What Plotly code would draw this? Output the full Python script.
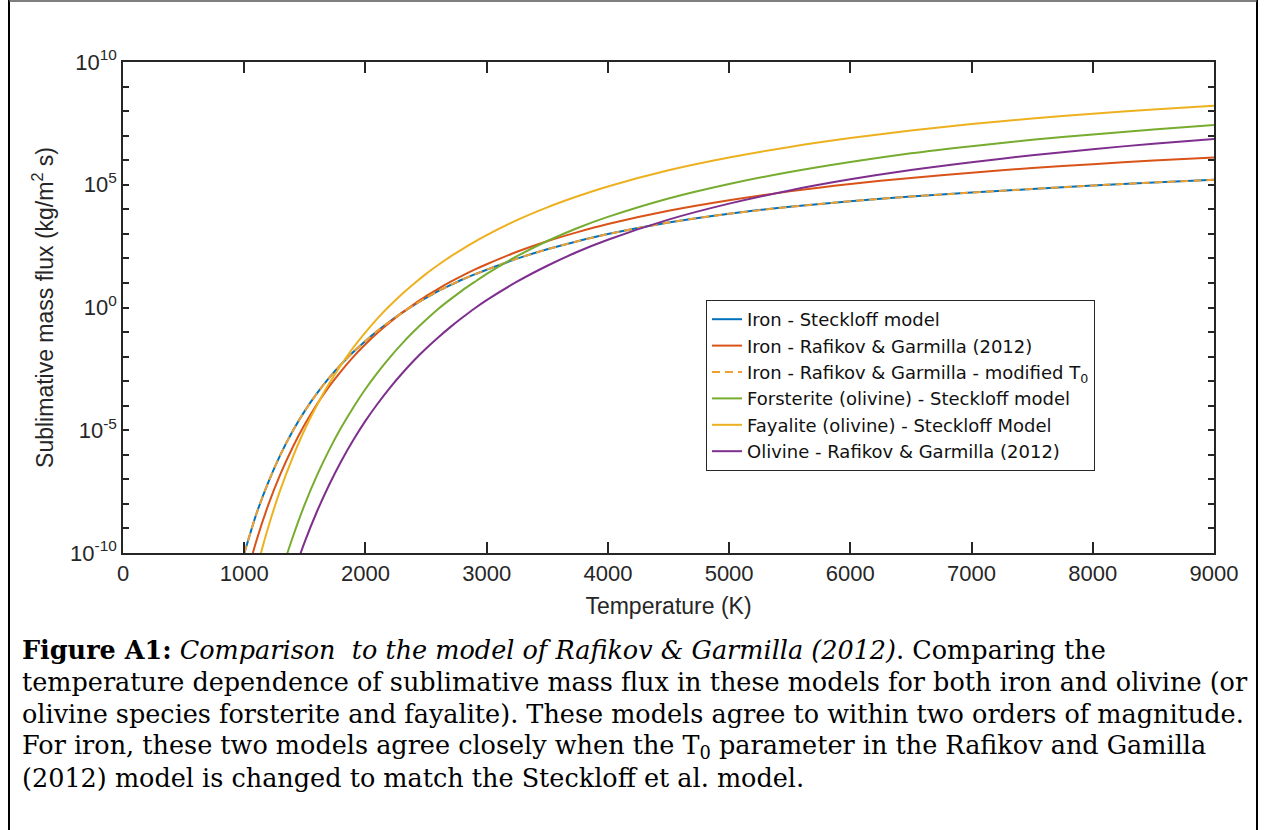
import plotly.graph_objects as go

# Temperature grid (K)
temperature = [1000, 1100, 1200, 1300, 1400, 1500, 1600, 1700, 1800, 1900, 2000,
               2100, 2200, 2300, 2400, 2500, 2600, 2700, 2800, 2900, 3000,
               3250, 3500, 3750, 4000, 4500, 5000, 5500, 6000, 6500, 7000,
               7500, 8000, 8500, 9000]

# log10 of sublimative mass flux (kg/m^2 s)
iron_steckloff = [-10.02, -8.41, -7.10, -5.98, -5.03, -4.21, -3.50, -2.87, -2.31, -1.81, -1.36,
                  -0.95, -0.57, -0.22, 0.10, 0.39, 0.67, 0.91, 1.14, 1.35, 1.54,
                  1.99, 2.37, 2.70, 2.99, 3.46, 3.82, 4.10, 4.33, 4.52, 4.68,
                  4.83, 4.97, 5.09, 5.20]
iron_rg = [-11.29, -9.51, -8.02, -6.77, -5.69, -4.76, -3.94, -3.22, -2.59, -2.01, -1.50,
           -1.03, -0.61, -0.22, 0.13, 0.46, 0.76, 1.04, 1.30, 1.54, 1.76,
           2.27, 2.70, 3.07, 3.40, 3.94, 4.37, 4.73, 5.03, 5.28, 5.49,
           5.68, 5.84, 5.99, 6.11]
iron_rg_mod = [-10.02, -8.41, -7.10, -5.98, -5.03, -4.21, -3.50, -2.87, -2.31, -1.81, -1.36,
               -0.95, -0.57, -0.22, 0.10, 0.39, 0.67, 0.91, 1.14, 1.35, 1.54,
               1.99, 2.37, 2.70, 2.99, 3.46, 3.82, 4.10, 4.33, 4.52, 4.68,
               4.83, 4.97, 5.09, 5.20]
forsterite = [-17.31, -14.78, -12.67, -10.88, -9.36, -8.01, -6.84, -5.81, -4.89, -4.07, -3.32,
              -2.65, -2.04, -1.48, -0.97, -0.50, -0.06, 0.33, 0.70, 1.04, 1.37,
              2.09, 2.71, 3.24, 3.69, 4.44, 5.03, 5.52, 5.93, 6.28, 6.57,
              6.83, 7.05, 7.25, 7.43]
fayalite = [-12.88, -10.72, -8.92, -7.40, -6.10, -4.96, -3.98, -3.10, -2.33, -1.63, -1.01,
            -0.44, 0.07, 0.54, 0.97, 1.37, 1.73, 2.07, 2.38, 2.67, 2.95,
            3.56, 4.08, 4.53, 4.93, 5.59, 6.11, 6.54, 6.90, 7.21, 7.47,
            7.70, 7.89, 8.07, 8.22]
olivine_rg = [-19.39, -16.70, -14.47, -12.57, -10.95, -9.54, -8.31, -7.23, -6.26, -5.40, -4.62,
              -3.92, -3.28, -2.70, -2.16, -1.67, -1.22, -0.80, -0.41, -0.04, 0.30,
              1.05, 1.70, 2.27, 2.76, 3.58, 4.23, 4.77, 5.22, 5.60, 5.92,
              6.20, 6.45, 6.67, 6.86]

series = [
    ("Iron - Steckloff model", iron_steckloff, "#0072BD", "solid"),
    ("Iron - Rafikov & Garmilla (2012)", iron_rg, "#D95319", "solid"),
    ("Iron - Rafikov & Garmilla - modified T<sub>0</sub>", iron_rg_mod, "#F0A030", "8px,5px"),
    ("Forsterite (olivine) - Steckloff model", forsterite, "#77AC30", "solid"),
    ("Fayalite (olivine) - Steckloff Model", fayalite, "#EDB120", "solid"),
    ("Olivine - Rafikov & Garmilla (2012)", olivine_rg, "#7E2F8E", "solid"),
]

x_ticks = list(range(0, 9001, 1000))
y_tick_exps = list(range(-10, 11))
y_tick_labels = {-10: "10<sup>-10</sup>", -5: "10<sup>-5</sup>", 0: "10<sup>0</sup>",
                 5: "10<sup>5</sup>", 10: "10<sup>10</sup>"}

fig = go.Figure()
for name, logvals, color, dash in series:
    fig.add_trace(go.Scatter(
        x=temperature, y=[10 ** v for v in logvals], mode="lines", name=name,
        line=dict(color=color, width=2, dash=dash, shape="spline", smoothing=0.8,
                  simplify=False),
    ))

W, H = 1266, 830
L, R, T, B = 123, 1214, 62, 553
def px(xp):
    return (xp - L) / (R - L)
def py(yp):
    return (B - yp) / (B - T)

axis_color = "#262626"
fig.update_layout(
    width=W, height=H, autosize=False,
    margin=dict(l=L, r=W - R, t=T, b=H - B),
    paper_bgcolor="white", plot_bgcolor="white",
    font=dict(family="Liberation Sans, Arial, sans-serif", color=axis_color),
    showlegend=True,
    legend=dict(x=px(706), y=py(300), xanchor="left", yanchor="top",
                bgcolor="white", bordercolor=axis_color, borderwidth=1,
                font=dict(family="DejaVu Sans, sans-serif", size=18, color="#111111"),
                tracegroupgap=0, itemwidth=30),
    xaxis=dict(range=[0, 9000], tickvals=x_ticks, ticktext=[str(v) for v in x_ticks],
               ticks="inside", ticklen=11, tickwidth=1.5, tickcolor=axis_color,
               showline=True, linecolor=axis_color, linewidth=1.5, mirror="ticks",
               showgrid=False, zeroline=False, tickfont=dict(size=22),
               title=dict(text="Temperature (K)", font=dict(size=23), standoff=13)),
    yaxis=dict(type="log", range=[-10, 10], tickvals=[10 ** e for e in y_tick_exps],
               ticktext=[y_tick_labels.get(e, "") for e in y_tick_exps],
               ticks="inside", ticklen=6, tickwidth=1.5, tickcolor=axis_color,
               showline=True, linecolor=axis_color, linewidth=1.5, mirror="ticks",
               showgrid=False, zeroline=False, tickfont=dict(size=22),
               title=dict(text="Sublimative mass flux (kg/m<sup>2</sup> s)",
                          font=dict(size=23), standoff=10)),
)

# outer frame of the figure panel
fig.add_shape(type="line", xref="paper", yref="paper", x0=px(9), x1=px(9), y0=py(0), y1=py(830),
              line=dict(color="black", width=2))
fig.add_shape(type="line", xref="paper", yref="paper", x0=px(1257), x1=px(1257), y0=py(0), y1=py(830),
              line=dict(color="black", width=2))
fig.add_shape(type="line", xref="paper", yref="paper", x0=px(9), x1=px(1257), y0=py(1), y1=py(1),
              line=dict(color="#555555", width=1.5))

caption = [
    "<b>Figure A1:</b> <i>Comparison\u00a0 to the model of Rafikov &amp; Garmilla (2012)</i>. Comparing the",
    "temperature dependence of sublimative mass flux in these models for both iron and olivine (or",
    "olivine species forsterite and fayalite). These models agree to within two orders of magnitude.",
    "For iron, these two models agree closely when the T<sub>0</sub> parameter in the Rafikov and Gamilla",
    "(2012) model is changed to match the Steckloff et al. model.",
]
for i, line in enumerate(caption):
    fig.add_annotation(text=line, xref="paper", yref="paper", x=px(20), y=py(650 + 32 * i),
                       xanchor="left", yanchor="middle", showarrow=False,
                       font=dict(family="DejaVu Serif, serif", size=25.5,
                                 color="black"))

fig.write_html("out.html", config={"displayModeBar": False},
               post_script="document.body.style.margin='0';")
